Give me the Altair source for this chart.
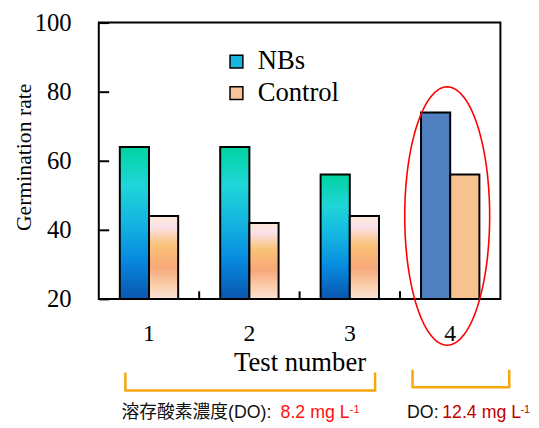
import altair as alt
import numpy as np
import pandas as pd

# ---- data ----
tests = ["1", "2", "3", "4"]
series = ["NBs", "Control"]
nbs_rate = [64, 64, 56, 74]
control_rate = [44, 42, 44, 56]

# group-boundary ticks on the bottom axis (in group units 0..4)
boundary_pos = [1, 2, 3]

# annotation: ellipse around test 4 (x in group units 0..4, y in rate units)
ell_cx, ell_cy, ell_rx, ell_ry = 3.47, 44.0, 0.423, 37.4
# annotation: orange brackets
bracket_id = ["a", "a", "a", "a", "b", "b", "b", "b"]
bracket_x = [0.265, 0.265, 2.752, 2.752, 3.125, 3.125, 4.088, 4.088]
bracket_y = [-1.6, -6.5, -6.5, -1.6, -0.8, -5.6, -5.6, -0.8]
# annotation: bottom notes
note_text = ["溶存酸素濃度(DO):", "8.2 mg L", "-1", "DO:", "12.4 mg L", "-1"]
note_x = [0.226, 1.81, 2.50, 3.07, 3.42, 4.20]
note_y = [-14.6, -14.6, -13.0, -14.6, -14.6, -13.0]
note_color = ["#111111", "#FF1010", "#FF1010", "#111111", "#C00000", "#C00000"]
note_size = [18, 18, 11, 18, 18, 11]

rows = []
for t, a, b in zip(tests, nbs_rate, control_rate):
    rows.append({"test": t, "series": "NBs", "rate": a})
    rows.append({"test": t, "series": "Control", "rate": b})
bars = pd.DataFrame(rows)

theta = np.linspace(0, 2 * np.pi, 121)
ellipse = pd.DataFrame({
    "ex": ell_cx + ell_rx * np.sin(theta),
    "rate": ell_cy + ell_ry * np.cos(theta),
    "i": np.arange(len(theta)),
})
brackets = pd.DataFrame({"b": bracket_id, "ex": bracket_x, "rate": bracket_y,
                         "i": list(range(len(bracket_x)))})
notes = pd.DataFrame({"label": note_text, "ex": note_x, "rate": note_y,
                      "col": note_color, "fs": note_size})
boundaries = pd.DataFrame({"ex": boundary_pos, "rate": [20] * len(boundary_pos),
                           "rate2": [22.2] * len(boundary_pos)})

SERIF = "Liberation Serif"
SANS = 'Liberation Sans, "Noto Sans CJK JP", sans-serif'

yenc = alt.Y("rate:Q",
             scale=alt.Scale(domain=[20, 100], zero=False, nice=False),
             axis=alt.Axis(values=[20, 40, 60, 80, 100], offset=-10, tickSize=10,
                           tickWidth=2, tickColor="black", domain=False, grid=False,
                           labelPadding=28, labelFont=SERIF, labelFontSize=25,
                           labelColor="black", title="Germination rate",
                           titleFont=SERIF, titleFontSize=22, titleFontWeight="normal",
                           titleColor="black", titleX=-86, titleY=136,
                           titleBaseline="middle", titleAngle=-90))

xband_axis = alt.X("test:N",
                   scale=alt.Scale(domain=tests, paddingInner=0, paddingOuter=0),
                   axis=alt.Axis(labelAngle=0, ticks=False, tickSize=0, domain=False,
                                 labelPadding=23, labelFont=SERIF, labelFontSize=24,
                                 labelColor="black", title="Test number",
                                 titleFont=SERIF, titleFontSize=27,
                                 titleFontWeight="normal", titleColor="black",
                                 titleY=52, titleBaseline="top"))
xband = alt.X("test:N",
              scale=alt.Scale(domain=tests, paddingInner=0, paddingOuter=0),
              axis=None)
xoff = alt.XOffset("series:N",
                   scale=alt.Scale(domain=series, paddingInner=0, paddingOuter=0.72))

base = alt.Chart(bars).mark_bar().encode(
    x=xband_axis, xOffset=xoff, y=yenc, y2=alt.datum(20),
    color=alt.Color("series:N",
                    scale=alt.Scale(domain=series, range=["#18B4E2", "#F9C497"]),
                    legend=alt.Legend(orient="none", legendX=126, legendY=26, title=None,
                                      symbolType="square", symbolSize=170,
                                      symbolStrokeColor="black", symbolStrokeWidth=1.5,
                                      labelFont=SERIF, labelFontSize=27,
                                      labelColor="black", rowPadding=4,
                                      labelOffset=8, padding=0)),
)

nbs_grad = alt.Gradient(gradient="linear", x1=0, x2=0, y1=0, y2=1, stops=[
    alt.GradientStop(color="#00D3A0", offset=0),
    alt.GradientStop(color="#1FD6D8", offset=0.25),
    alt.GradientStop(color="#14B4E2", offset=0.5),
    alt.GradientStop(color="#0688DE", offset=0.75),
    alt.GradientStop(color="#0A56AE", offset=1),
])
ctrl_grad = alt.Gradient(gradient="linear", x1=0, x2=0, y1=0, y2=1, stops=[
    alt.GradientStop(color="#FCE9D6", offset=0),
    alt.GradientStop(color="#FBE1EA", offset=0.13),
    alt.GradientStop(color="#F9C277", offset=0.35),
    alt.GradientStop(color="#F8A878", offset=0.62),
    alt.GradientStop(color="#FAD0AE", offset=0.85),
    alt.GradientStop(color="#FBE3D8", offset=1),
])


def bar_layer(fill, cond):
    return alt.Chart(bars).transform_filter(cond).mark_bar(
        color=fill, stroke="black", strokeWidth=2
    ).encode(x=xband, xOffset=xoff, y=yenc, y2=alt.datum(20))


l_nbs = bar_layer(nbs_grad, "datum.series == 'NBs' && datum.test != '4'")
l_ctrl = bar_layer(ctrl_grad, "datum.series == 'Control' && datum.test != '4'")
l_nbs4 = bar_layer("#4F7FBF", "datum.series == 'NBs' && datum.test == '4'")
l_ctrl4 = bar_layer("#F8C190", "datum.series == 'Control' && datum.test == '4'")

xq = alt.X("ex:Q", scale=alt.Scale(domain=[0, 4], nice=False, zero=False), axis=None)

ticks = alt.Chart(boundaries).mark_rule(color="black", strokeWidth=2).encode(
    x=xq, y=yenc, y2=alt.Y2("rate2:Q"))

ell = alt.Chart(ellipse).mark_line(color="#FF0000", strokeWidth=1.6, clip=False).encode(
    x=xq, y=yenc, order="i:Q")

brk = alt.Chart(brackets).mark_line(color="#F7A70A", strokeWidth=2.5, clip=False,
                                   strokeJoin="round", strokeCap="round").encode(
    x=xq, y=yenc, detail="b:N", order="i:Q")

txt = alt.Chart(notes).mark_text(align="left", baseline="alphabetic", font=SANS,
                                 clip=False).encode(
    x=xq, y=yenc, text="label:N",
    color=alt.Color("col:N", scale=None),
    size=alt.Size("fs:Q", scale=None))

chart = alt.layer(base, l_nbs, l_ctrl, l_nbs4, l_ctrl4, ticks, ell, brk, txt).resolve_scale(
    x="independent", color="independent"
).properties(
    width=407, height=280,
    autosize=alt.AutoSizeParams(type="none"),
    padding={"left": 92, "top": 12, "right": 31, "bottom": 126},
    background="white",
).configure_view(
    stroke="black", strokeWidth=2
)

chart.save("out.html", embed_options={"renderer": "svg", "actions": False})
